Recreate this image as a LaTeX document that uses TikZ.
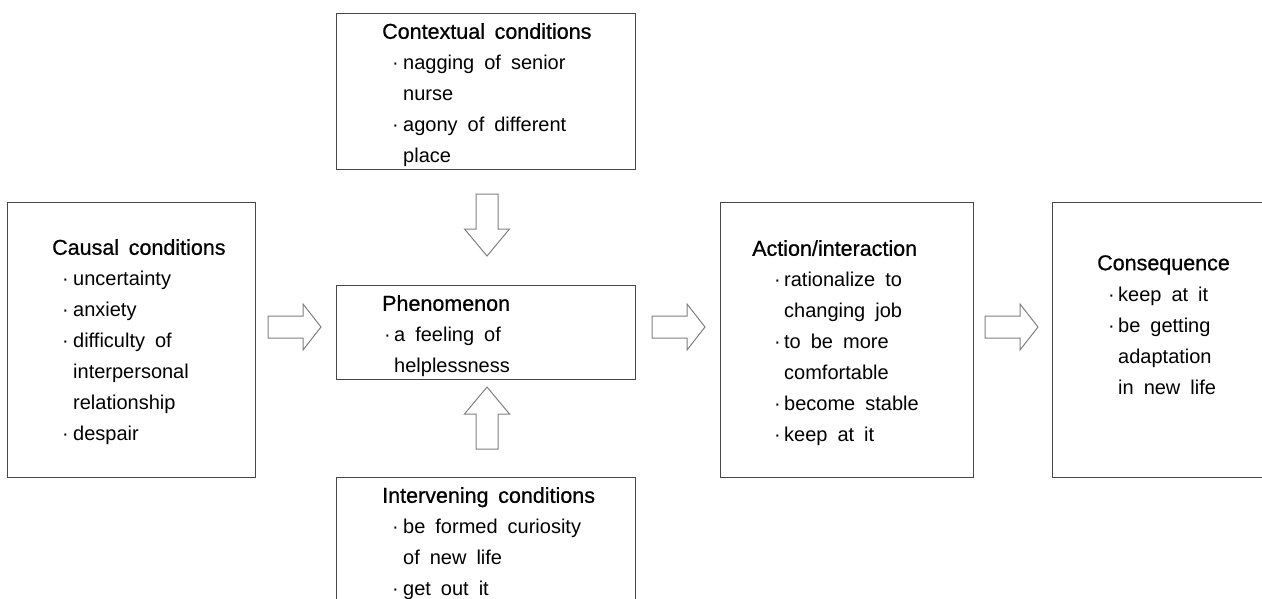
\documentclass[tikz,border=0pt]{standalone}
\usepackage{fontspec}
\setmainfont{Liberation Sans}
\newfontfamily\titlefont[FakeBold=0.7]{Liberation Sans}
\newcommand\itemsize{\fontsize{20}{31}\selectfont\spaceskip=0.5em\relax}
\newcommand\ttl[1]{{\titlefont\fontsize{21.5}{31}\selectfont\spaceskip=0.45em\relax #1}}
\newcommand\bul[3]{\hspace*{#1pt}\makebox[#2pt][l]{\textperiodcentered}#3}
\newcommand\cont[2]{\hspace*{#1pt}#2}
\begin{document}
\begin{tikzpicture}[x=1pt,y=-1pt,
  box/.style={draw=black!72,line width=0.9pt,fill=white,inner sep=0pt},
  txt/.style={anchor=north west,inner sep=0pt,align=left,font=\itemsize,text=black},
  blockarrow/.style={draw=black!50,line width=1pt,fill=white,line join=miter},
  rblock/.pic={\draw[blockarrow] (0,-11) -- (35,-11) -- (35,-23) -- (53,0) -- (35,23) -- (35,11) -- (0,11) -- cycle;},
  dblock/.pic={\draw[blockarrow] (-11,0) -- (11,0) -- (11,35) -- (22.5,35) -- (0,62) -- (-22.5,35) -- (-11,35) -- cycle;}
]
\useasboundingbox (0,0) rectangle (1262,598);
\begin{scope}
\clip (0,0) rectangle (1262,598);
% boxes
\node[box,minimum width=299pt,minimum height=156pt] (ctx) at (485.5,91) {};
\node[box,minimum width=248pt,minimum height=275pt] (causal) at (131,339.5) {};
\node[box,minimum width=299pt,minimum height=94pt] (phen) at (485.5,332) {};
\node[box,minimum width=299pt,minimum height=163pt] (interv) at (485.5,558.5) {};
\node[box,minimum width=253pt,minimum height=275pt] (action) at (846.5,339.5) {};
\node[box,minimum width=248pt,minimum height=275pt] (conseq) at (1176,339.5) {};
% texts
\node[txt] (ctxT) at (382,23) {\ttl{Contextual conditions}\\
  \bul{10}{11}{nagging of senior}\\ \cont{21}{nurse}\\
  \bul{10}{11}{agony of different}\\ \cont{21}{place}};
\node[txt] (causalT) at (52,239) {\ttl{Causal conditions}\\
  \bul{10}{11}{uncertainty}\\ \bul{10}{11}{anxiety}\\
  \bul{10}{11}{difficulty of}\\ \cont{21}{interpersonal}\\
  \cont{21}{relationship}\\ \bul{10}{11}{despair}};
\node[txt] (phenT) at (382,295) {\ttl{Phenomenon}\\
  \bul{2}{10}{a feeling of}\\ \cont{12}{helplessness}};
\node[txt] (intervT) at (382,487) {\ttl{Intervening conditions}\\
  \bul{10}{11}{be formed curiosity}\\ \cont{21}{of new life}\\
  \bul{10}{11}{get out it}};
\node[txt] (actionT) at (752,240) {\ttl{Action/interaction}\\
  \bul{22}{10}{rationalize to}\\ \cont{32}{changing job}\\
  \bul{22}{10}{to be more}\\ \cont{32}{comfortable}\\
  \bul{22}{10}{become stable}\\ \bul{22}{10}{keep at it}};
\node[txt] (conseqT) at (1097,255) {\ttl{Consequence}\\
  \bul{11}{10}{keep at it}\\ \bul{11}{10}{be getting}\\
  \cont{21}{adaptation}\\ \cont{21}{in new life}};
% block arrows
\coordinate (a1) at (268,327);
\coordinate (a2) at (652,327);
\coordinate (a3) at (985,327);
\coordinate (a4) at (487,194);
\coordinate (a5) at (487,449);
\pic at (a1) {rblock};
\pic at (a2) {rblock};
\pic at (a3) {rblock};
\pic at (a4) {dblock};
\pic[rotate=180] at (a5) {dblock};
\end{scope}
\end{tikzpicture}
\end{document}
